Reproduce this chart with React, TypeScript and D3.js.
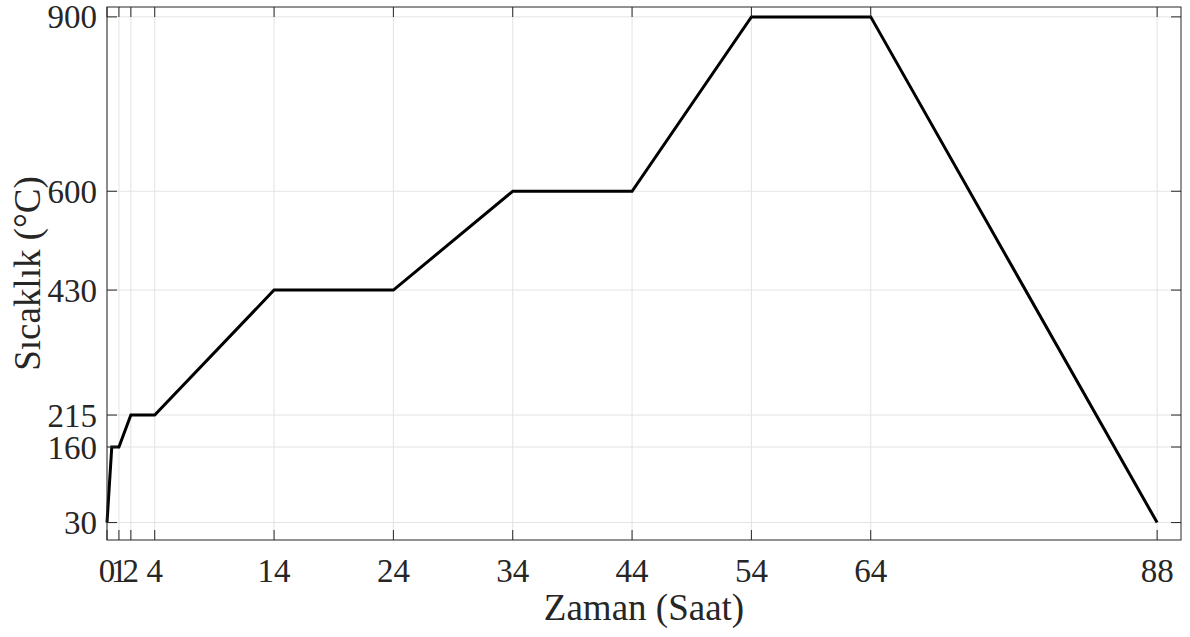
import React from 'react';
import * as d3 from 'd3';

const hours = [0, 0.4, 1, 2, 4, 14, 24, 34, 44, 54, 64, 88];
const temps = [30, 160, 160, 215, 215, 430, 430, 600, 600, 900, 900, 30];
const xTicks = [0, 1, 2, 4, 14, 24, 34, 44, 54, 64, 88];
const yTicks = [30, 160, 215, 430, 600, 900];

export default function App() {
  const W = 1190;
  const H = 637;
  const left = 107;
  const right = 1181;
  const top = 7;
  const bottom = 540;
  const font = '"Liberation Serif", "Times New Roman", serif';
  const axisColor = '#262626';

  const x = d3.scaleLinear().domain([0, 90]).range([left, right]);
  const y = d3.scaleLinear().domain([0, 917]).range([bottom, top]);

  const points = hours.map((h, i) => [h, temps[i]] as [number, number]);
  const line = d3
    .line<[number, number]>()
    .x((d) => x(d[0]))
    .y((d) => y(d[1]));

  return (
    <svg
      width={W}
      height={H}
      style={{ position: 'absolute', left: 0, top: 0, background: '#fff' }}
    >
      {/* grid */}
      {xTicks.map((t) => (
        <line key={'gx' + t} x1={x(t)} x2={x(t)} y1={top} y2={bottom} stroke="#e3e3e3" strokeWidth={1} />
      ))}
      {yTicks.map((t) => (
        <line key={'gy' + t} x1={left} x2={right} y1={y(t)} y2={y(t)} stroke="#e3e3e3" strokeWidth={1} />
      ))}

      {/* data */}
      <path d={line(points) ?? ''} fill="none" stroke="#000" strokeWidth={3} strokeLinejoin="miter" />

      {/* box */}
      <rect x={left} y={top} width={right - left} height={bottom - top} fill="none" stroke={axisColor} strokeWidth={1} />

      {/* ticks */}
      {xTicks.map((t) => (
        <g key={'tx' + t}>
          <line x1={x(t)} x2={x(t)} y1={bottom} y2={bottom - 10} stroke={axisColor} />
          <line x1={x(t)} x2={x(t)} y1={top} y2={top + 10} stroke={axisColor} />
          <text x={x(t)} y={582} textAnchor="middle" fontFamily={font} fontSize={33} fill={axisColor}>
            {t}
          </text>
        </g>
      ))}
      {yTicks.map((t) => (
        <g key={'ty' + t}>
          <line x1={left} x2={left + 10} y1={y(t)} y2={y(t)} stroke={axisColor} />
          <line x1={right} x2={right - 10} y1={y(t)} y2={y(t)} stroke={axisColor} />
          <text x={97} y={y(t)} dy="0.35em" textAnchor="end" fontFamily={font} fontSize={33} fill={axisColor}>
            {t}
          </text>
        </g>
      ))}

      {/* labels */}
      <text x={(left + right) / 2} y={620} textAnchor="middle" fontFamily={font} fontSize={37} fill={axisColor}>
        Zaman (Saat)
      </text>
      <text
        transform={`translate(40 ${(top + bottom) / 2}) rotate(-90)`}
        textAnchor="middle"
        fontFamily={font}
        fontSize={37}
        fill={axisColor}
      >
        Sıcaklık (°C)
      </text>
    </svg>
  );
}
